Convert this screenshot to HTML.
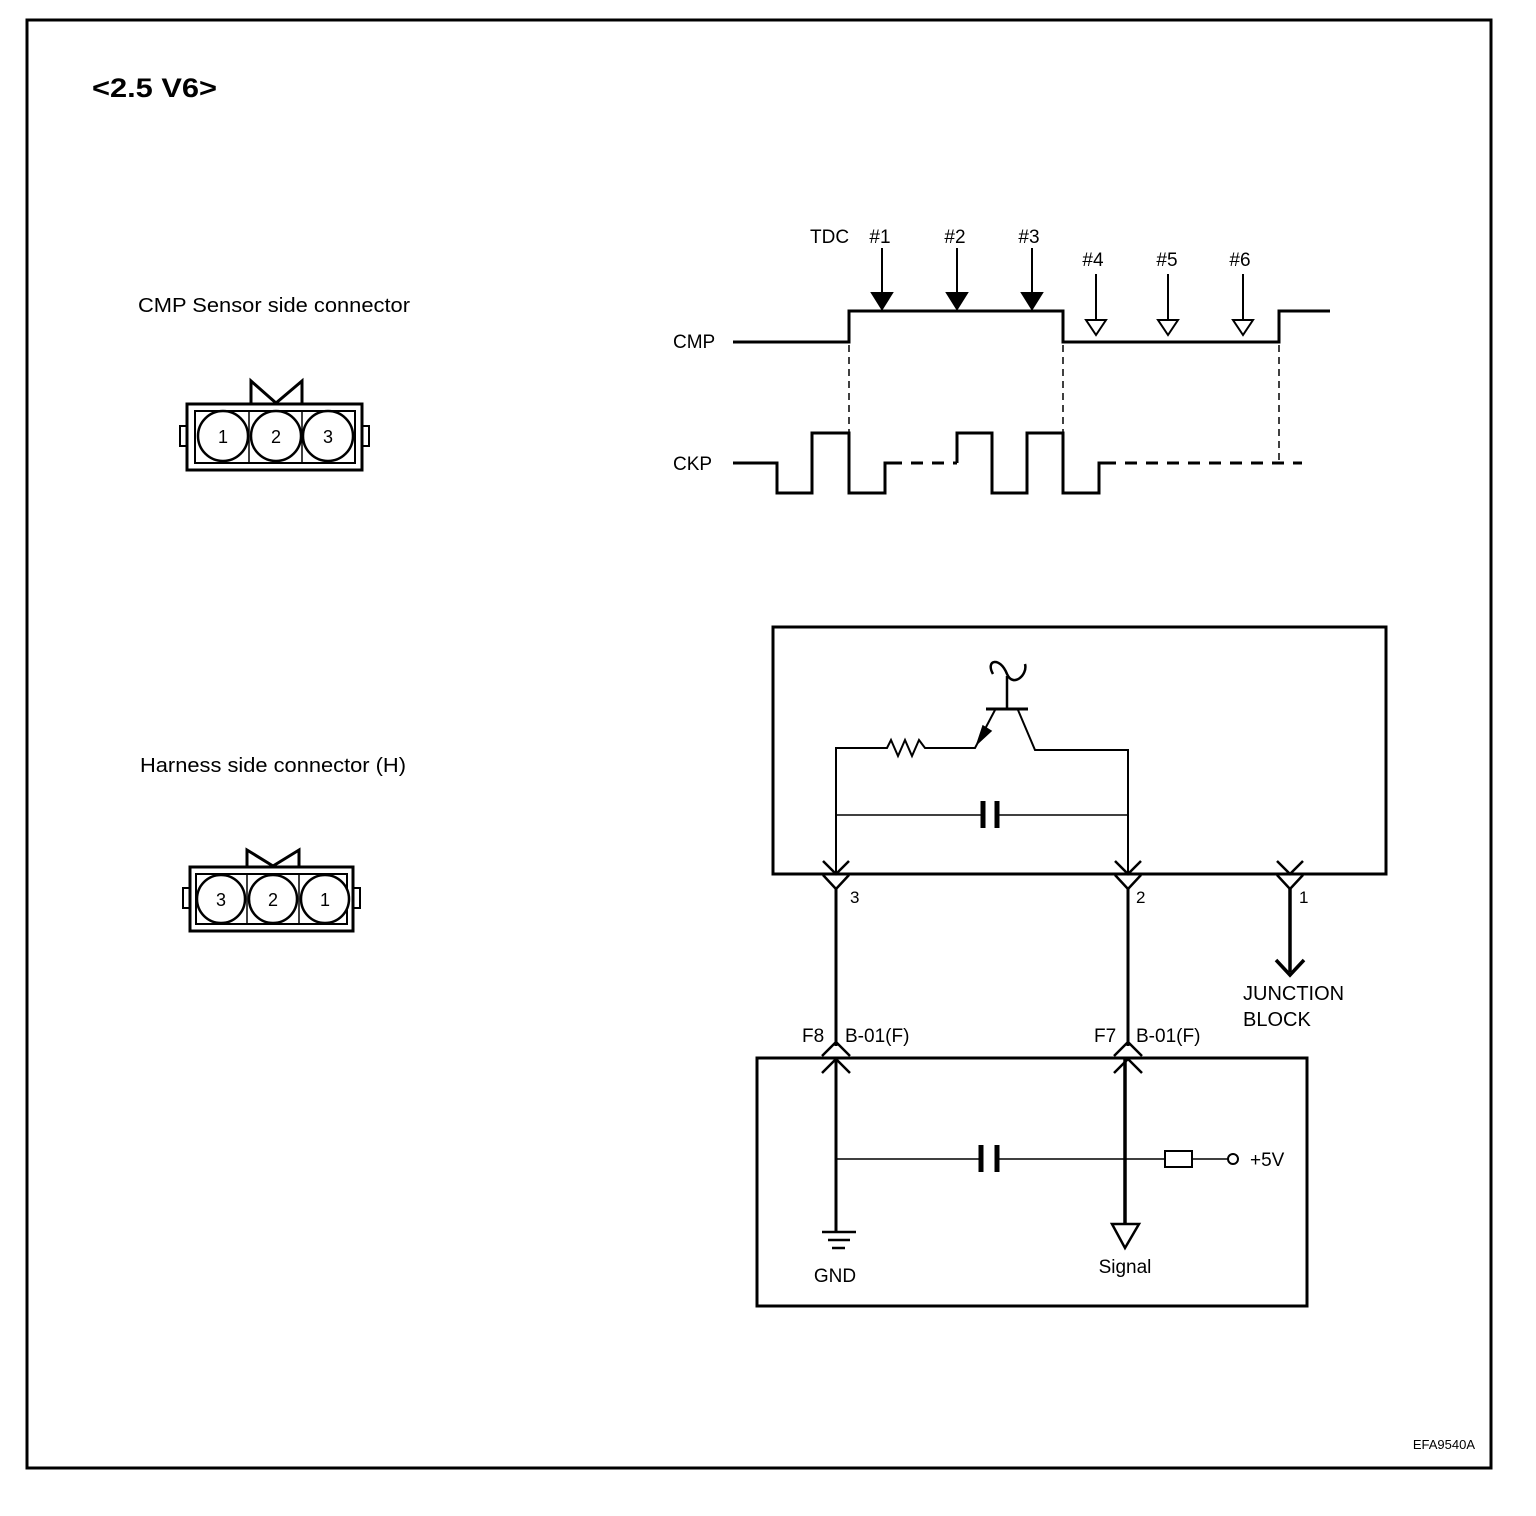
<!DOCTYPE html>
<html><head><meta charset="utf-8"><style>
html,body{margin:0;padding:0;background:#fff;}
svg{display:block;font-family:"Liberation Sans",Arial,sans-serif;}
</style></head><body>
<svg width="1536" height="1516" viewBox="0 0 1536 1516" xmlns="http://www.w3.org/2000/svg">
<rect x="27" y="20" width="1464" height="1448" fill="none" stroke="#000" stroke-width="3"/>
<text x="92" y="97" font-size="27" font-weight="bold" textLength="125" lengthAdjust="spacingAndGlyphs">&lt;2.5 V6&gt;</text>
<text x="138" y="312" font-size="20" textLength="272" lengthAdjust="spacingAndGlyphs">CMP Sensor side connector</text>
<text x="140" y="772" font-size="20" textLength="266" lengthAdjust="spacingAndGlyphs">Harness side connector (H)</text>
<text x="1475" y="1449" font-size="13" text-anchor="end">EFA9540A</text>

<g stroke="#000" fill="none">
<rect x="187" y="404" width="175" height="66" stroke-width="3"/>
<rect x="195" y="411" width="160" height="52" stroke-width="2"/>
<rect x="180" y="426" width="7" height="20" stroke-width="2"/>
<rect x="362" y="426" width="7" height="20" stroke-width="2"/>
<polyline points="251,404 251,381 276,403 302,381 302,404" stroke-width="3"/>
<line x1="249" y1="411" x2="249" y2="463" stroke-width="1.5"/>
<line x1="302" y1="411" x2="302" y2="463" stroke-width="1.5"/>
<circle cx="223" cy="436" r="25" stroke-width="2.5" fill="#fff"/>
<circle cx="276" cy="436" r="25" stroke-width="2.5" fill="#fff"/>
<circle cx="328" cy="436" r="25" stroke-width="2.5" fill="#fff"/>
</g>
<g font-size="18" text-anchor="middle"><text x="223" y="443">1</text><text x="276" y="443">2</text><text x="328" y="443">3</text></g>

<g stroke="#000" fill="none">
<rect x="190" y="867" width="163" height="64" stroke-width="3"/>
<rect x="196" y="874" width="151" height="50" stroke-width="2"/>
<rect x="183" y="888" width="7" height="20" stroke-width="2"/>
<rect x="353" y="888" width="7" height="20" stroke-width="2"/>
<polyline points="247,867 247,850 273,866 299,850 299,867" stroke-width="3"/>
<line x1="247" y1="874" x2="247" y2="924" stroke-width="1.5"/>
<line x1="299" y1="874" x2="299" y2="924" stroke-width="1.5"/>
<circle cx="221" cy="899" r="24" stroke-width="2.5" fill="#fff"/>
<circle cx="273" cy="899" r="24" stroke-width="2.5" fill="#fff"/>
<circle cx="325" cy="899" r="24" stroke-width="2.5" fill="#fff"/>
</g>
<g font-size="18" text-anchor="middle"><text x="221" y="906">3</text><text x="273" y="906">2</text><text x="325" y="906">1</text></g>

<g font-size="19">
<text x="810" y="243">TDC</text>
<text x="880" y="243" text-anchor="middle">#1</text>
<text x="955" y="243" text-anchor="middle">#2</text>
<text x="1029" y="243" text-anchor="middle">#3</text>
<text x="1093" y="266" text-anchor="middle">#4</text>
<text x="1167" y="266" text-anchor="middle">#5</text>
<text x="1240" y="266" text-anchor="middle">#6</text>
<text x="673" y="348">CMP</text>
<text x="673" y="470">CKP</text>
</g>
<g stroke="#000" fill="none" stroke-width="3">
<polyline points="733,342 849,342 849,311 1063,311 1063,342 1279,342 1279,311 1330,311"/>
<polyline points="733,463 777,463 777,493 812,493 812,433 849,433 849,493 885,493 885,463 890,463"/>
<polyline points="957,463 957,433 992,433 992,493 1027,493 1027,433 1063,433 1063,493 1099,493 1099,463 1104,463"/>
<line x1="890" y1="463" x2="957" y2="463" stroke-dasharray="12,9"/>
<line x1="1104" y1="463" x2="1302" y2="463" stroke-dasharray="12,9"/>
<g stroke-width="1.5" stroke-dasharray="7,5">
<line x1="849" y1="345" x2="849" y2="433"/>
<line x1="1063" y1="345" x2="1063" y2="433"/>
<line x1="1279" y1="345" x2="1279" y2="463"/>
</g>
<g stroke-width="2">
<line x1="882" y1="248" x2="882" y2="294"/>
<line x1="957" y1="248" x2="957" y2="294"/>
<line x1="1032" y1="248" x2="1032" y2="294"/>
<line x1="1096" y1="274" x2="1096" y2="320"/>
<line x1="1168" y1="274" x2="1168" y2="320"/>
<line x1="1243" y1="274" x2="1243" y2="320"/>
</g>
</g>
<g stroke="#000" stroke-width="2">
<polygon points="872,293 892,293 882,309" fill="#000"/>
<polygon points="947,293 967,293 957,309" fill="#000"/>
<polygon points="1022,293 1042,293 1032,309" fill="#000"/>
<polygon points="1086,320 1106,320 1096,335" fill="#fff"/>
<polygon points="1158,320 1178,320 1168,335" fill="#fff"/>
<polygon points="1233,320 1253,320 1243,335" fill="#fff"/>
</g>

<g stroke="#000" fill="none">
<rect x="773" y="627" width="613" height="247" stroke-width="3"/>
<polyline points="836,874 836,748 887,748 891,740 898,756 905,740 912,756 919,740 925,748 975,748 995,710" stroke-width="2"/>
<polygon points="977,744 983,726 991,731" fill="#000" stroke-width="1.5"/>
<line x1="986" y1="709" x2="1028" y2="709" stroke-width="3"/>
<line x1="1007" y1="709" x2="1007" y2="676" stroke-width="2.5"/>
<path d="M993,674 C985,660 1000,656 1007,674 C1013,688 1028,675 1025,664" stroke-width="2.5"/>
<polyline points="1018,710 1035,750 1128,750 1128,874" stroke-width="2"/>
<line x1="836" y1="815" x2="983" y2="815" stroke-width="1.5"/>
<line x1="998" y1="815" x2="1128" y2="815" stroke-width="1.5"/>
<line x1="983" y1="801" x2="983" y2="828" stroke-width="5"/>
<line x1="997" y1="801" x2="997" y2="828" stroke-width="5"/>
<polyline points="823,861 836,874 849,861" stroke-width="2.5"/>
<polyline points="823,875 836,889 849,875" stroke-width="2.5"/>
<polyline points="1115,861 1128,874 1141,861" stroke-width="2.5"/>
<polyline points="1115,875 1128,889 1141,875" stroke-width="2.5"/>
<polyline points="1277,861 1290,874 1303,861" stroke-width="2.5"/>
<polyline points="1277,875 1290,889 1303,875" stroke-width="2.5"/>
<line x1="836" y1="889" x2="836" y2="1046" stroke-width="3"/>
<line x1="1128" y1="889" x2="1128" y2="1046" stroke-width="3"/>
<line x1="1290" y1="889" x2="1290" y2="972" stroke-width="3.5"/>
<polyline points="1276,960 1290,975 1304,960" stroke-width="3.5"/>
</g>
<g font-size="17">
<text x="850" y="903">3</text><text x="1136" y="903">2</text><text x="1299" y="903">1</text>
<text x="1243" y="1000" font-size="20">JUNCTION</text>
<text x="1243" y="1026" font-size="20">BLOCK</text>
<text x="802" y="1042" font-size="19">F8</text>
<text x="845" y="1042" font-size="19">B-01(F)</text>
<text x="1094" y="1042" font-size="19">F7</text>
<text x="1136" y="1042" font-size="19">B-01(F)</text>
<text x="1250" y="1166" font-size="19">+5V</text>
<text x="835" y="1282" font-size="19" text-anchor="middle">GND</text>
<text x="1125" y="1273" font-size="19" text-anchor="middle">Signal</text>
</g>

<g stroke="#000" fill="none">
<rect x="757" y="1058" width="550" height="248" stroke-width="3"/>
<polyline points="822,1056 836,1042 850,1056" stroke-width="2.5"/>
<polyline points="822,1073 836,1059 850,1073" stroke-width="2.5"/>
<polyline points="1114,1056 1128,1042 1142,1056" stroke-width="2.5"/>
<polyline points="1114,1073 1128,1059 1142,1073" stroke-width="2.5"/>
<line x1="836" y1="1059" x2="836" y2="1232" stroke-width="3"/>
<line x1="1125" y1="1059" x2="1125" y2="1224" stroke-width="3.5"/>
<line x1="822" y1="1232" x2="856" y2="1232" stroke-width="2.5"/>
<line x1="828" y1="1240" x2="850" y2="1240" stroke-width="2.5"/>
<line x1="832" y1="1248" x2="845" y2="1248" stroke-width="2.5"/>
<polygon points="1112,1224 1139,1224 1125,1248" stroke-width="2.5" fill="#fff"/>
<line x1="836" y1="1159" x2="980" y2="1159" stroke-width="1.5"/>
<line x1="998" y1="1159" x2="1165" y2="1159" stroke-width="1.5"/>
<line x1="981" y1="1145" x2="981" y2="1172" stroke-width="5"/>
<line x1="997" y1="1145" x2="997" y2="1172" stroke-width="5"/>
<rect x="1165" y="1151" width="27" height="16" stroke-width="2"/>
<line x1="1192" y1="1159" x2="1228" y2="1159" stroke-width="1.5"/>
<circle cx="1233" cy="1159" r="5" stroke-width="2" fill="#fff"/>
</g>
</svg>
</body></html>
